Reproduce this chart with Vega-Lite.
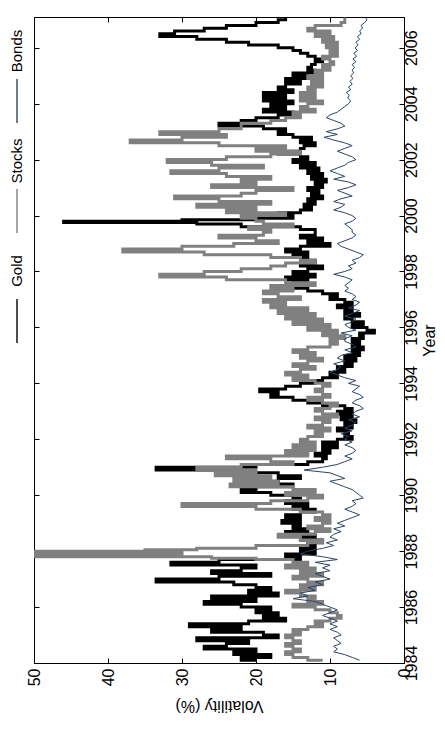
{
  "$schema": "https://vega.github.io/schema/vega-lite/v6.json",
  "padding": {"top": 16, "left": 0, "right": 0, "bottom": 0},
  "background": "white",
  "config": {"view": {"stroke": null}, "font": "Liberation Sans Narrow, Liberation Sans, sans-serif", "axis": {"minExtent": 0}},
  "spacing": 0,
  "datasets": {
    "legend": [{"series": "Bonds"}, {"series": "Stocks"}, {"series": "Gold"}],
    "gold": [
      {"year":1984.1,"vol":20},{"year":1984.2,"vol":22},{"year":1984.3,"vol":18},{"year":1984.4,"vol":23},{"year":1984.5,"vol":20},{"year":1984.6,"vol":27},{"year":1984.7,"vol":24},{"year":1984.8,"vol":21},{"year":1984.9,"vol":28},
      {"year":1985.0,"vol":17},{"year":1985.1,"vol":19},{"year":1985.2,"vol":26},{"year":1985.3,"vol":22},{"year":1985.4,"vol":29},{"year":1985.5,"vol":21},{"year":1985.6,"vol":16},{"year":1985.7,"vol":19},{"year":1985.8,"vol":17},{"year":1985.9,"vol":20},
      {"year":1986.0,"vol":18},{"year":1986.1,"vol":22},{"year":1986.2,"vol":27},{"year":1986.3,"vol":20},{"year":1986.4,"vol":26},{"year":1986.5,"vol":17},{"year":1986.6,"vol":21},{"year":1986.7,"vol":18},{"year":1986.8,"vol":20},{"year":1986.9,"vol":23},
      {"year":1987.0,"vol":33.5},{"year":1987.1,"vol":25},{"year":1987.2,"vol":18},{"year":1987.3,"vol":26},{"year":1987.4,"vol":22},{"year":1987.5,"vol":20},{"year":1987.6,"vol":31.5},{"year":1987.7,"vol":25},{"year":1987.8,"vol":14},{"year":1987.9,"vol":16},
      {"year":1988.0,"vol":12},{"year":1988.1,"vol":14},{"year":1988.2,"vol":12},{"year":1988.3,"vol":13},{"year":1988.4,"vol":11},{"year":1988.5,"vol":14},{"year":1988.6,"vol":12},{"year":1988.7,"vol":16},{"year":1988.8,"vol":13},{"year":1988.9,"vol":15},
      {"year":1989.0,"vol":14},{"year":1989.1,"vol":16.5},{"year":1989.2,"vol":14},{"year":1989.3,"vol":16},{"year":1989.4,"vol":14},{"year":1989.5,"vol":12},{"year":1989.6,"vol":15},{"year":1989.7,"vol":13},{"year":1989.8,"vol":16},{"year":1989.9,"vol":14},
      {"year":1990.0,"vol":15},{"year":1990.1,"vol":18},{"year":1990.2,"vol":22},{"year":1990.3,"vol":20},{"year":1990.4,"vol":15},{"year":1990.5,"vol":21},{"year":1990.6,"vol":17},{"year":1990.7,"vol":14},{"year":1990.8,"vol":17},{"year":1990.9,"vol":22},
      {"year":1991.0,"vol":33.5},{"year":1991.1,"vol":20},{"year":1991.2,"vol":13},{"year":1991.3,"vol":11},{"year":1991.4,"vol":10.5},{"year":1991.5,"vol":12},{"year":1991.6,"vol":10},{"year":1991.7,"vol":11},{"year":1991.8,"vol":9},{"year":1991.9,"vol":11},
      {"year":1992.0,"vol":9},{"year":1992.1,"vol":7},{"year":1992.2,"vol":8},{"year":1992.3,"vol":7.5},{"year":1992.4,"vol":9},{"year":1992.5,"vol":7},{"year":1992.6,"vol":8},{"year":1992.7,"vol":6.5},{"year":1992.8,"vol":8.5},{"year":1992.9,"vol":7},
      {"year":1993.0,"vol":9},{"year":1993.1,"vol":7},{"year":1993.2,"vol":8},{"year":1993.3,"vol":11},{"year":1993.4,"vol":13},{"year":1993.5,"vol":15},{"year":1993.6,"vol":18},{"year":1993.7,"vol":17},{"year":1993.8,"vol":19.5},{"year":1993.9,"vol":16},
      {"year":1994.0,"vol":14},{"year":1994.1,"vol":12},{"year":1994.2,"vol":11},{"year":1994.3,"vol":9},{"year":1994.4,"vol":10},{"year":1994.5,"vol":8},{"year":1994.6,"vol":9},{"year":1994.7,"vol":7},{"year":1994.8,"vol":8},{"year":1994.9,"vol":6.5},
      {"year":1995.0,"vol":8},{"year":1995.1,"vol":6},{"year":1995.2,"vol":7},{"year":1995.3,"vol":5.5},{"year":1995.4,"vol":7},{"year":1995.5,"vol":6},{"year":1995.6,"vol":7},{"year":1995.7,"vol":5.5},{"year":1995.8,"vol":6},{"year":1995.9,"vol":4},
      {"year":1996.0,"vol":5},{"year":1996.1,"vol":7},{"year":1996.2,"vol":5.5},{"year":1996.3,"vol":7},{"year":1996.4,"vol":8},{"year":1996.5,"vol":6},{"year":1996.6,"vol":8},{"year":1996.7,"vol":7},{"year":1996.8,"vol":9},{"year":1996.9,"vol":7},
      {"year":1997.0,"vol":8},{"year":1997.1,"vol":10},{"year":1997.2,"vol":9},{"year":1997.3,"vol":11},{"year":1997.4,"vol":13},{"year":1997.5,"vol":17},{"year":1997.6,"vol":15},{"year":1997.7,"vol":13},{"year":1997.8,"vol":16},{"year":1997.9,"vol":12},
      {"year":1998.0,"vol":15},{"year":1998.1,"vol":13},{"year":1998.2,"vol":11},{"year":1998.3,"vol":14},{"year":1998.4,"vol":12},{"year":1998.5,"vol":13},{"year":1998.6,"vol":15},{"year":1998.7,"vol":13},{"year":1998.8,"vol":16},{"year":1998.9,"vol":14},
      {"year":1999.0,"vol":10},{"year":1999.1,"vol":13},{"year":1999.2,"vol":11},{"year":1999.3,"vol":14},{"year":1999.4,"vol":12},{"year":1999.5,"vol":12},{"year":1999.6,"vol":14},{"year":1999.7,"vol":22},{"year":1999.75,"vol":28},{"year":1999.8,"vol":46},{"year":1999.85,"vol":30},{"year":1999.9,"vol":20},
      {"year":2000.0,"vol":15},{"year":2000.1,"vol":17},{"year":2000.2,"vol":14},{"year":2000.3,"vol":12.5},{"year":2000.4,"vol":13.5},{"year":2000.5,"vol":12},{"year":2000.6,"vol":13},{"year":2000.7,"vol":11},{"year":2000.8,"vol":12.5},{"year":2000.9,"vol":11.5},
      {"year":2001.0,"vol":13},{"year":2001.1,"vol":11},{"year":2001.2,"vol":12},{"year":2001.3,"vol":10.5},{"year":2001.4,"vol":12.5},{"year":2001.5,"vol":11},{"year":2001.6,"vol":13},{"year":2001.7,"vol":11.5},{"year":2001.8,"vol":14},{"year":2001.9,"vol":12},
      {"year":2002.0,"vol":15},{"year":2002.1,"vol":13},{"year":2002.2,"vol":14},{"year":2002.3,"vol":17},{"year":2002.4,"vol":14},{"year":2002.5,"vol":13.5},{"year":2002.6,"vol":12},{"year":2002.7,"vol":14},{"year":2002.8,"vol":12.5},{"year":2002.9,"vol":15},
      {"year":2003.0,"vol":17},{"year":2003.1,"vol":16},{"year":2003.2,"vol":19},{"year":2003.3,"vol":25},{"year":2003.4,"vol":22},{"year":2003.5,"vol":20},{"year":2003.6,"vol":17},{"year":2003.7,"vol":15},{"year":2003.8,"vol":19},{"year":2003.9,"vol":16},
      {"year":2004.0,"vol":18},{"year":2004.1,"vol":15},{"year":2004.2,"vol":19},{"year":2004.3,"vol":16},{"year":2004.4,"vol":19},{"year":2004.5,"vol":15},{"year":2004.6,"vol":17},{"year":2004.7,"vol":16},{"year":2004.8,"vol":14},{"year":2004.9,"vol":16},
      {"year":2005.0,"vol":13},{"year":2005.1,"vol":15},{"year":2005.2,"vol":12},{"year":2005.3,"vol":13},{"year":2005.4,"vol":12.5},{"year":2005.5,"vol":12},{"year":2005.6,"vol":11},{"year":2005.7,"vol":12},{"year":2005.8,"vol":13},{"year":2005.9,"vol":14},
      {"year":2006.0,"vol":15},{"year":2006.1,"vol":17},{"year":2006.2,"vol":21},{"year":2006.3,"vol":24},{"year":2006.4,"vol":28},{"year":2006.5,"vol":33},{"year":2006.6,"vol":31},{"year":2006.7,"vol":27},{"year":2006.8,"vol":24},{"year":2006.9,"vol":20},
      {"year":2007.0,"vol":17},{"year":2007.08,"vol":16}
    ],
    "stocks": [
      {"year":1984.1,"vol":11},{"year":1984.2,"vol":13},{"year":1984.3,"vol":15},{"year":1984.4,"vol":16},{"year":1984.5,"vol":14},{"year":1984.6,"vol":15},{"year":1984.7,"vol":16},{"year":1984.8,"vol":14},{"year":1984.9,"vol":15},
      {"year":1985.0,"vol":16},{"year":1985.1,"vol":14},{"year":1985.2,"vol":15},{"year":1985.3,"vol":13},{"year":1985.4,"vol":11},{"year":1985.5,"vol":12},{"year":1985.6,"vol":10},{"year":1985.7,"vol":8.5},{"year":1985.8,"vol":9},{"year":1985.9,"vol":10},
      {"year":1986.0,"vol":12},{"year":1986.1,"vol":15},{"year":1986.2,"vol":11},{"year":1986.3,"vol":13},{"year":1986.4,"vol":12},{"year":1986.5,"vol":14},{"year":1986.6,"vol":16},{"year":1986.7,"vol":12},{"year":1986.8,"vol":14},{"year":1986.9,"vol":11},
      {"year":1987.0,"vol":13},{"year":1987.1,"vol":15},{"year":1987.2,"vol":11},{"year":1987.3,"vol":14},{"year":1987.4,"vol":12},{"year":1987.5,"vol":16},{"year":1987.6,"vol":13},{"year":1987.7,"vol":15},{"year":1987.75,"vol":20},{"year":1987.8,"vol":26},{"year":1987.85,"vol":55},{"year":1987.9,"vol":55},{"year":1987.95,"vol":30},
      {"year":1988.0,"vol":55},{"year":1988.05,"vol":35},{"year":1988.1,"vol":28},{"year":1988.2,"vol":20},{"year":1988.3,"vol":13},{"year":1988.4,"vol":11},{"year":1988.5,"vol":14},{"year":1988.6,"vol":17},{"year":1988.7,"vol":12},{"year":1988.8,"vol":10},{"year":1988.9,"vol":13},
      {"year":1989.0,"vol":11},{"year":1989.1,"vol":10},{"year":1989.2,"vol":12},{"year":1989.3,"vol":10},{"year":1989.4,"vol":11},{"year":1989.5,"vol":14},{"year":1989.6,"vol":20},{"year":1989.7,"vol":30},{"year":1989.8,"vol":18},{"year":1989.9,"vol":13},
      {"year":1990.0,"vol":11},{"year":1990.1,"vol":16},{"year":1990.2,"vol":12},{"year":1990.3,"vol":15},{"year":1990.4,"vol":23.5},{"year":1990.5,"vol":17},{"year":1990.6,"vol":23},{"year":1990.7,"vol":18},{"year":1990.8,"vol":25.5},{"year":1990.9,"vol":20},
      {"year":1991.0,"vol":28},{"year":1991.1,"vol":22},{"year":1991.2,"vol":15},{"year":1991.3,"vol":18},{"year":1991.4,"vol":24},{"year":1991.5,"vol":13},{"year":1991.6,"vol":16},{"year":1991.7,"vol":12},{"year":1991.8,"vol":15},{"year":1991.9,"vol":12},
      {"year":1992.0,"vol":14},{"year":1992.1,"vol":13},{"year":1992.2,"vol":11},{"year":1992.3,"vol":12},{"year":1992.4,"vol":10},{"year":1992.5,"vol":13},{"year":1992.6,"vol":11},{"year":1992.7,"vol":10},{"year":1992.8,"vol":12},{"year":1992.9,"vol":9},
      {"year":1993.0,"vol":11},{"year":1993.1,"vol":12},{"year":1993.2,"vol":10},{"year":1993.3,"vol":9},{"year":1993.4,"vol":11},{"year":1993.5,"vol":13},{"year":1993.6,"vol":10},{"year":1993.7,"vol":11},{"year":1993.8,"vol":12},{"year":1993.9,"vol":11},
      {"year":1994.0,"vol":10},{"year":1994.1,"vol":12},{"year":1994.2,"vol":15},{"year":1994.3,"vol":13},{"year":1994.4,"vol":16},{"year":1994.5,"vol":14},{"year":1994.6,"vol":12},{"year":1994.7,"vol":15},{"year":1994.8,"vol":13},{"year":1994.9,"vol":11},
      {"year":1995.0,"vol":14},{"year":1995.1,"vol":12},{"year":1995.2,"vol":15},{"year":1995.3,"vol":13},{"year":1995.4,"vol":10},{"year":1995.5,"vol":9},{"year":1995.6,"vol":10},{"year":1995.7,"vol":8},{"year":1995.8,"vol":11},{"year":1995.9,"vol":9},
      {"year":1996.0,"vol":13},{"year":1996.1,"vol":10},{"year":1996.2,"vol":15},{"year":1996.3,"vol":11},{"year":1996.4,"vol":16},{"year":1996.5,"vol":12},{"year":1996.6,"vol":17},{"year":1996.7,"vol":13},{"year":1996.8,"vol":18},{"year":1996.9,"vol":16},
      {"year":1997.0,"vol":19},{"year":1997.1,"vol":14},{"year":1997.2,"vol":17},{"year":1997.3,"vol":19},{"year":1997.4,"vol":15},{"year":1997.5,"vol":18},{"year":1997.6,"vol":12},{"year":1997.7,"vol":16},{"year":1997.8,"vol":24},{"year":1997.9,"vol":33},
      {"year":1998.0,"vol":27},{"year":1998.1,"vol":22},{"year":1998.2,"vol":18},{"year":1998.3,"vol":16},{"year":1998.4,"vol":12},{"year":1998.5,"vol":14},{"year":1998.6,"vol":18},{"year":1998.7,"vol":27},{"year":1998.8,"vol":38},{"year":1998.9,"vol":30},
      {"year":1999.0,"vol":23},{"year":1999.1,"vol":17},{"year":1999.2,"vol":20},{"year":1999.3,"vol":25},{"year":1999.4,"vol":19},{"year":1999.5,"vol":18},{"year":1999.6,"vol":21},{"year":1999.7,"vol":15},{"year":1999.8,"vol":19},{"year":1999.9,"vol":20},
      {"year":2000.0,"vol":22},{"year":2000.1,"vol":16},{"year":2000.2,"vol":24},{"year":2000.3,"vol":20},{"year":2000.4,"vol":28},{"year":2000.5,"vol":18},{"year":2000.6,"vol":25},{"year":2000.7,"vol":31},{"year":2000.8,"vol":22},{"year":2000.9,"vol":20},
      {"year":2001.0,"vol":15},{"year":2001.1,"vol":26},{"year":2001.2,"vol":20},{"year":2001.3,"vol":22},{"year":2001.4,"vol":18},{"year":2001.5,"vol":24},{"year":2001.6,"vol":31.5},{"year":2001.7,"vol":25},{"year":2001.8,"vol":19},{"year":2001.9,"vol":26},
      {"year":2002.0,"vol":32},{"year":2002.1,"vol":24},{"year":2002.2,"vol":18},{"year":2002.3,"vol":14},{"year":2002.4,"vol":20},{"year":2002.5,"vol":16},{"year":2002.6,"vol":25},{"year":2002.7,"vol":37},{"year":2002.8,"vol":30},{"year":2002.9,"vol":24},
      {"year":2003.0,"vol":33},{"year":2003.1,"vol":25},{"year":2003.2,"vol":22},{"year":2003.3,"vol":22},{"year":2003.4,"vol":18},{"year":2003.5,"vol":16},{"year":2003.6,"vol":14},{"year":2003.7,"vol":15},{"year":2003.8,"vol":12},{"year":2003.9,"vol":14},
      {"year":2004.0,"vol":13},{"year":2004.1,"vol":11},{"year":2004.2,"vol":14},{"year":2004.3,"vol":12},{"year":2004.4,"vol":14},{"year":2004.5,"vol":12},{"year":2004.6,"vol":13},{"year":2004.7,"vol":11},{"year":2004.8,"vol":12.5},{"year":2004.9,"vol":11},
      {"year":2005.0,"vol":13},{"year":2005.1,"vol":11},{"year":2005.2,"vol":12},{"year":2005.3,"vol":10},{"year":2005.4,"vol":11},{"year":2005.5,"vol":9.5},{"year":2005.6,"vol":10},{"year":2005.7,"vol":11},{"year":2005.8,"vol":9},{"year":2005.9,"vol":10},
      {"year":2006.0,"vol":9},{"year":2006.1,"vol":10.5},{"year":2006.2,"vol":9},{"year":2006.3,"vol":11},{"year":2006.4,"vol":9.5},{"year":2006.5,"vol":12},{"year":2006.6,"vol":10},{"year":2006.7,"vol":13},{"year":2006.8,"vol":12},{"year":2006.9,"vol":8.5},
      {"year":2007.0,"vol":8},{"year":2007.08,"vol":8}
    ],
    "bonds": [
      {"year":1984.1,"vol":6},{"year":1984.2,"vol":7},{"year":1984.3,"vol":8},{"year":1984.4,"vol":9.5},{"year":1984.5,"vol":9},{"year":1984.6,"vol":9.5},{"year":1984.7,"vol":8.5},{"year":1984.8,"vol":9},{"year":1984.9,"vol":9.5},
      {"year":1985.0,"vol":8.5},{"year":1985.1,"vol":9},{"year":1985.2,"vol":10},{"year":1985.3,"vol":9},{"year":1985.4,"vol":10},{"year":1985.5,"vol":9},{"year":1985.6,"vol":10},{"year":1985.7,"vol":11},{"year":1985.8,"vol":10},{"year":1985.9,"vol":9},
      {"year":1986.0,"vol":10},{"year":1986.1,"vol":11},{"year":1986.2,"vol":12},{"year":1986.3,"vol":15},{"year":1986.4,"vol":13},{"year":1986.5,"vol":14},{"year":1986.6,"vol":12},{"year":1986.7,"vol":13},{"year":1986.8,"vol":11},{"year":1986.9,"vol":12},
      {"year":1987.0,"vol":10},{"year":1987.1,"vol":11},{"year":1987.2,"vol":12},{"year":1987.3,"vol":10},{"year":1987.4,"vol":11},{"year":1987.5,"vol":10},{"year":1987.6,"vol":12},{"year":1987.7,"vol":9},{"year":1987.8,"vol":11},{"year":1987.9,"vol":14},
      {"year":1988.0,"vol":13},{"year":1988.1,"vol":11},{"year":1988.2,"vol":9.5},{"year":1988.3,"vol":10.5},{"year":1988.4,"vol":9},{"year":1988.5,"vol":10},{"year":1988.6,"vol":9.5},{"year":1988.7,"vol":8.5},{"year":1988.8,"vol":9.5},{"year":1988.9,"vol":8},
      {"year":1989.0,"vol":9},{"year":1989.1,"vol":8},{"year":1989.2,"vol":7},{"year":1989.3,"vol":6},{"year":1989.4,"vol":7},{"year":1989.5,"vol":8},{"year":1989.6,"vol":7},{"year":1989.7,"vol":6.5},{"year":1989.8,"vol":7},{"year":1989.9,"vol":5.5},
      {"year":1990.0,"vol":6},{"year":1990.1,"vol":6.5},{"year":1990.2,"vol":7},{"year":1990.3,"vol":8},{"year":1990.4,"vol":9},{"year":1990.5,"vol":10},{"year":1990.6,"vol":8},{"year":1990.7,"vol":9},{"year":1990.8,"vol":10},{"year":1990.9,"vol":13.5},
      {"year":1991.0,"vol":11},{"year":1991.1,"vol":9},{"year":1991.2,"vol":8},{"year":1991.3,"vol":7},{"year":1991.4,"vol":8},{"year":1991.5,"vol":7},{"year":1991.6,"vol":6.5},{"year":1991.7,"vol":7},{"year":1991.8,"vol":8},{"year":1991.9,"vol":7},
      {"year":1992.0,"vol":8},{"year":1992.1,"vol":7.5},{"year":1992.2,"vol":8.5},{"year":1992.3,"vol":7},{"year":1992.4,"vol":8},{"year":1992.5,"vol":7},{"year":1992.6,"vol":6.5},{"year":1992.7,"vol":7.5},{"year":1992.8,"vol":6},{"year":1992.9,"vol":7},
      {"year":1993.0,"vol":6.5},{"year":1993.1,"vol":5.5},{"year":1993.2,"vol":6},{"year":1993.3,"vol":7},{"year":1993.4,"vol":6.5},{"year":1993.5,"vol":5.5},{"year":1993.6,"vol":6},{"year":1993.7,"vol":7},{"year":1993.8,"vol":6.5},{"year":1993.9,"vol":6},
      {"year":1994.0,"vol":7.5},{"year":1994.1,"vol":6.5},{"year":1994.2,"vol":8},{"year":1994.3,"vol":9},{"year":1994.4,"vol":10},{"year":1994.5,"vol":9},{"year":1994.6,"vol":8.5},{"year":1994.7,"vol":9.5},{"year":1994.8,"vol":8},{"year":1994.9,"vol":9},
      {"year":1995.0,"vol":8.5},{"year":1995.1,"vol":7},{"year":1995.2,"vol":8},{"year":1995.3,"vol":6.5},{"year":1995.4,"vol":7},{"year":1995.5,"vol":8},{"year":1995.6,"vol":8},{"year":1995.7,"vol":7},{"year":1995.8,"vol":8.5},{"year":1995.9,"vol":6.5},
      {"year":1996.0,"vol":7.5},{"year":1996.1,"vol":8},{"year":1996.2,"vol":7},{"year":1996.3,"vol":6.5},{"year":1996.4,"vol":8},{"year":1996.5,"vol":7},{"year":1996.6,"vol":6},{"year":1996.7,"vol":7.5},{"year":1996.8,"vol":6.5},{"year":1996.9,"vol":6},
      {"year":1997.0,"vol":7},{"year":1997.1,"vol":6.5},{"year":1997.2,"vol":7},{"year":1997.3,"vol":8},{"year":1997.4,"vol":7.5},{"year":1997.5,"vol":8},{"year":1997.6,"vol":7.5},{"year":1997.7,"vol":7},{"year":1997.8,"vol":8},{"year":1997.9,"vol":9.5},
      {"year":1998.0,"vol":8},{"year":1998.1,"vol":7},{"year":1998.2,"vol":7.5},{"year":1998.3,"vol":6.5},{"year":1998.4,"vol":7},{"year":1998.5,"vol":6},{"year":1998.6,"vol":5.5},{"year":1998.7,"vol":6.5},{"year":1998.8,"vol":7.5},{"year":1998.9,"vol":8.5},
      {"year":1999.0,"vol":9},{"year":1999.1,"vol":8},{"year":1999.2,"vol":7},{"year":1999.3,"vol":6.5},{"year":1999.4,"vol":7},{"year":1999.5,"vol":7},{"year":1999.6,"vol":7.5},{"year":1999.7,"vol":8},{"year":1999.8,"vol":7},{"year":1999.9,"vol":6.5},
      {"year":2000.0,"vol":7},{"year":2000.1,"vol":8},{"year":2000.2,"vol":9.5},{"year":2000.3,"vol":8.5},{"year":2000.4,"vol":8},{"year":2000.5,"vol":9.5},{"year":2000.6,"vol":8.5},{"year":2000.7,"vol":7},{"year":2000.8,"vol":8},{"year":2000.9,"vol":9},
      {"year":2001.0,"vol":7.5},{"year":2001.1,"vol":6.5},{"year":2001.2,"vol":7.5},{"year":2001.3,"vol":9.5},{"year":2001.4,"vol":8},{"year":2001.5,"vol":9},{"year":2001.6,"vol":10},{"year":2001.7,"vol":9},{"year":2001.8,"vol":8},{"year":2001.9,"vol":7.5},
      {"year":2002.0,"vol":6.5},{"year":2002.1,"vol":7},{"year":2002.2,"vol":8},{"year":2002.3,"vol":9},{"year":2002.4,"vol":8},{"year":2002.5,"vol":7},{"year":2002.6,"vol":8},{"year":2002.7,"vol":9.5},{"year":2002.8,"vol":10.8},{"year":2002.9,"vol":9},
      {"year":2003.0,"vol":10.5},{"year":2003.1,"vol":9},{"year":2003.2,"vol":8},{"year":2003.3,"vol":8.5},{"year":2003.4,"vol":9.5},{"year":2003.5,"vol":10.5},{"year":2003.6,"vol":10},{"year":2003.7,"vol":9},{"year":2003.8,"vol":8.5},{"year":2003.9,"vol":8},
      {"year":2004.0,"vol":7.5},{"year":2004.1,"vol":7.2},{"year":2004.2,"vol":7.6},{"year":2004.3,"vol":7.4},{"year":2004.4,"vol":7.8},{"year":2004.5,"vol":7.2},{"year":2004.6,"vol":7.5},{"year":2004.7,"vol":7},{"year":2004.8,"vol":7.3},{"year":2004.9,"vol":6.9},
      {"year":2005.0,"vol":7.2},{"year":2005.1,"vol":6.8},{"year":2005.2,"vol":7},{"year":2005.3,"vol":6.7},{"year":2005.4,"vol":7},{"year":2005.5,"vol":6.5},{"year":2005.6,"vol":6.9},{"year":2005.7,"vol":6.4},{"year":2005.8,"vol":6.8},{"year":2005.9,"vol":6.3},
      {"year":2006.0,"vol":6.6},{"year":2006.1,"vol":6.2},{"year":2006.2,"vol":6.5},{"year":2006.3,"vol":6},{"year":2006.4,"vol":6.3},{"year":2006.5,"vol":5.8},{"year":2006.6,"vol":6},{"year":2006.7,"vol":5.6},{"year":2006.8,"vol":5.8},{"year":2006.9,"vol":5.3},
      {"year":2007.0,"vol":5},{"year":2007.08,"vol":5.2}
    ]
  },
  "hconcat": [
    {
      "width": 26,
      "height": 646,
      "data": {"name": "legend"},
      "layer": [
        {
          "mark": {"type": "text", "angle": 270, "fontSize": 15, "align": "center", "baseline": "middle", "yOffset": -33, "xOffset": 4, "color": "#000"},
          "encoding": {
            "y": {"field": "series", "type": "nominal", "sort": ["Bonds", "Stocks", "Gold"], "scale": {"range": [12, 342], "paddingInner": 0, "paddingOuter": 0}, "axis": null},
            "text": {"field": "series"}
          }
        },
        {
          "mark": {"type": "tick", "orient": "vertical", "size": 44, "thickness": 2, "yOffset": 17, "xOffset": 4},
          "encoding": {
            "y": {"field": "series", "type": "nominal", "sort": ["Bonds", "Stocks", "Gold"], "axis": null},
            "color": {"field": "series", "type": "nominal", "scale": {"domain": ["Gold", "Stocks", "Bonds"], "range": ["#000000", "#808080", "#2c4466"]}, "legend": null}
          }
        }
      ]
    },
    {
      "width": 370,
      "height": 646,
      "layer": [
        {
          "data": {"name": "gold"},
          "mark": {"type": "line", "orient": "vertical", "interpolate": "step-after", "color": "#000000", "strokeWidth": 3, "clip": true},
          "encoding": {
            "x": {"field": "vol", "type": "quantitative", "scale": {"domain": [0, 50], "reverse": true, "nice": false, "zero": false},
              "axis": {"orient": "bottom", "values": [0, 10, 20, 30, 40, 50], "title": "Volatility (%)", "grid": false, "domainColor": "#000", "tickColor": "#000", "tickSize": -5, "labelAngle": 270, "labelAlign": "right", "labelBaseline": "middle", "labelPadding": 10, "labelFontSize": 16, "labelColor": "#000", "titleFontSize": 16, "titleFontWeight": "normal", "titleColor": "#000", "titleAngle": 180, "titleBaseline": "bottom", "titlePadding": 12}},
            "y": {"field": "year", "type": "quantitative", "scale": {"domain": [1984, 2007.1], "nice": false, "zero": false},
              "axis": {"orient": "right", "values": [1984, 1986, 1988, 1990, 1992, 1994, 1996, 1998, 2000, 2002, 2004, 2006], "format": "d", "title": "Year", "grid": false, "domainColor": "#000", "tickColor": "#000", "tickSize": -5, "labelAngle": 270, "labelAlign": "center", "labelBaseline": "top", "labelPadding": 4, "labelFontSize": 16, "labelColor": "#000", "titleFontSize": 16, "titleFontWeight": "normal", "titleColor": "#000", "titleAngle": 270, "titleBaseline": "top", "titlePadding": 2}},
            "order": {"field": "year", "type": "quantitative"}
          }
        },
        {
          "data": {"name": "stocks"},
          "mark": {"type": "line", "orient": "vertical", "interpolate": "step-after", "color": "#808080", "strokeWidth": 3, "clip": true},
          "encoding": {
            "x": {"field": "vol", "type": "quantitative",
              "axis": {"orient": "top", "values": [0, 10, 20, 30, 40, 50], "labels": false, "title": null, "grid": false, "domainColor": "#000", "tickColor": "#000", "tickSize": -5, "minExtent": 0}},
            "y": {"field": "year", "type": "quantitative",
              "axis": {"orient": "left", "values": [1984, 1986, 1988, 1990, 1992, 1994, 1996, 1998, 2000, 2002, 2004, 2006], "labels": false, "title": null, "grid": false, "domainColor": "#000", "tickColor": "#000", "tickSize": -5, "minExtent": 0}},
            "order": {"field": "year", "type": "quantitative"}
          }
        },
        {
          "data": {"name": "bonds"},
          "mark": {"type": "line", "orient": "vertical", "color": "#2c4466", "strokeWidth": 1, "clip": true},
          "encoding": {
            "x": {"field": "vol", "type": "quantitative", "axis": null},
            "y": {"field": "year", "type": "quantitative", "axis": null},
            "order": {"field": "year", "type": "quantitative"}
          }
        }
      ],
      "resolve": {"axis": {"x": "independent", "y": "independent"}}
    }
  ]
}
